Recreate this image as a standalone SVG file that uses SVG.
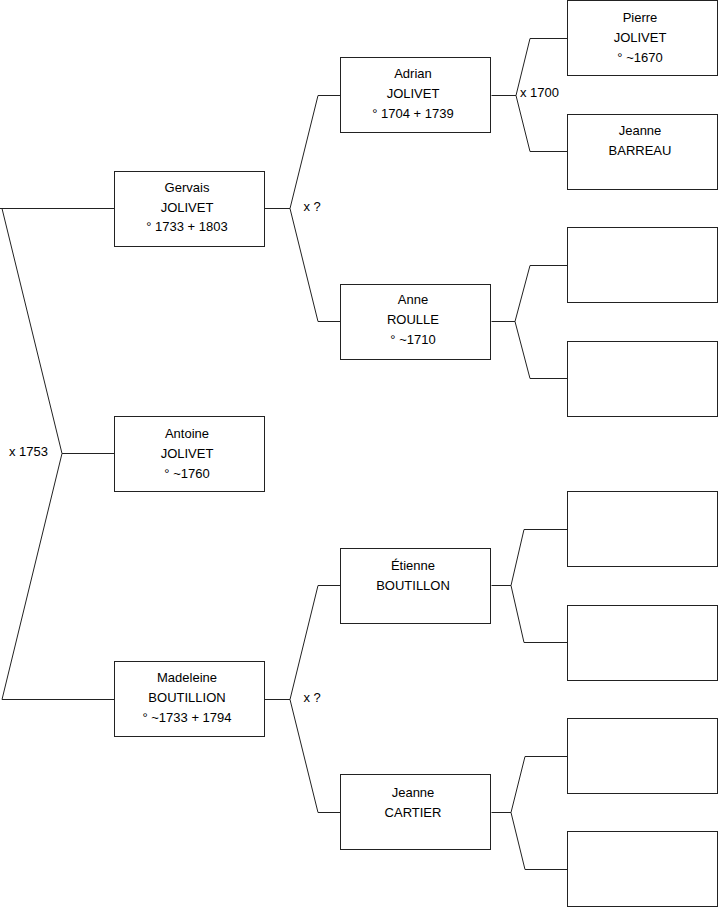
<svg xmlns="http://www.w3.org/2000/svg" width="719" height="908" viewBox="0 0 719 908">
<style>
.box{fill:#fff;stroke:#222;stroke-width:1}
.ln{fill:none;stroke:#222;stroke-width:1}
text{font-family:"Liberation Sans",Arial,sans-serif;font-size:13px;fill:#000}
.c{text-anchor:middle}
</style>
<rect width="719" height="908" fill="#fff"/>
<g id="connectors">
<path class="ln" d="M0,208.5H114.5 M2,208.5L62,453.5L2,699.5H114.5 M62,453.5H114.5"/>
<path class="ln" d="M264.5,208.5H290L318,95.5H340.5 M290,208.5L318,321.5H340.5"/>
<path class="ln" d="M264.5,699.5H290L318,585.5H340.5 M290,699.5L318,812.5H340.5"/>
<path class="ln" d="M491.5,95.5H516L530,38.5H567.5 M516,95.5L530,151.5H567.5"/>
<path class="ln" d="M491.5,321.5H515L530,265.5H567.5 M515,321.5L530,378.5H567.5"/>
<path class="ln" d="M491.5,585.5H511L524,529.5H567.5 M511,585.5L524,642.5H567.5"/>
<path class="ln" d="M491.5,812.5H511L525,756.5H567.5 M511,812.5L525,869.5H567.5"/>
<text x="9" y="456">x 1753</text>
<text x="303.5" y="211">x ?</text>
<text x="303.5" y="702">x ?</text>
<text x="520" y="97">x 1700</text>
</g>
<g id="gervais"><rect class="box" x="114.5" y="171.5" width="150" height="75"/>
<text class="c" x="187" y="191.5">Gervais</text><text class="c" x="187" y="211.5">JOLIVET</text><text class="c" x="187" y="231">° 1733 + 1803</text></g>
<g id="antoine"><rect class="box" x="114.5" y="416.5" width="150" height="75"/>
<text class="c" x="187" y="438">Antoine</text><text class="c" x="187" y="458">JOLIVET</text><text class="c" x="187" y="478">° ~1760</text></g>
<g id="madeleine"><rect class="box" x="114.5" y="661.5" width="150" height="75"/>
<text class="c" x="187" y="682">Madeleine</text><text class="c" x="187" y="702">BOUTILLION</text><text class="c" x="187" y="722">° ~1733 + 1794</text></g>
<g id="adrian"><rect class="box" x="340.5" y="57.5" width="150" height="75"/>
<text class="c" x="413" y="78">Adrian</text><text class="c" x="413" y="98">JOLIVET</text><text class="c" x="413" y="118">° 1704 + 1739</text></g>
<g id="anne"><rect class="box" x="340.5" y="284.5" width="150" height="75"/>
<text class="c" x="413" y="304">Anne</text><text class="c" x="413" y="324">ROULLE</text><text class="c" x="413" y="344">° ~1710</text></g>
<g id="etienne"><rect class="box" x="340.5" y="548.5" width="150" height="75"/>
<text class="c" x="413" y="570">Étienne</text><text class="c" x="413" y="590">BOUTILLON</text></g>
<g id="jeanne-cartier"><rect class="box" x="340.5" y="774.5" width="150" height="75"/>
<text class="c" x="413" y="797">Jeanne</text><text class="c" x="413" y="817">CARTIER</text></g>
<g id="pierre"><rect class="box" x="567.5" y="0.5" width="150" height="75"/>
<text class="c" x="640" y="22">Pierre</text><text class="c" x="640" y="42">JOLIVET</text><text class="c" x="640" y="62">° ~1670</text></g>
<g id="jeanne-barreau"><rect class="box" x="567.5" y="114.5" width="150" height="75"/>
<text class="c" x="640" y="135">Jeanne</text><text class="c" x="640" y="155">BARREAU</text></g>
<g id="empty1"><rect class="box" x="567.5" y="227.5" width="150" height="75"/></g>
<g id="empty2"><rect class="box" x="567.5" y="341.5" width="150" height="75"/></g>
<g id="empty3"><rect class="box" x="567.5" y="491.5" width="150" height="75"/></g>
<g id="empty4"><rect class="box" x="567.5" y="605.5" width="150" height="75"/></g>
<g id="empty5"><rect class="box" x="567.5" y="718.5" width="150" height="75"/></g>
<g id="empty6"><rect class="box" x="567.5" y="831.5" width="150" height="75"/></g>
</svg>
